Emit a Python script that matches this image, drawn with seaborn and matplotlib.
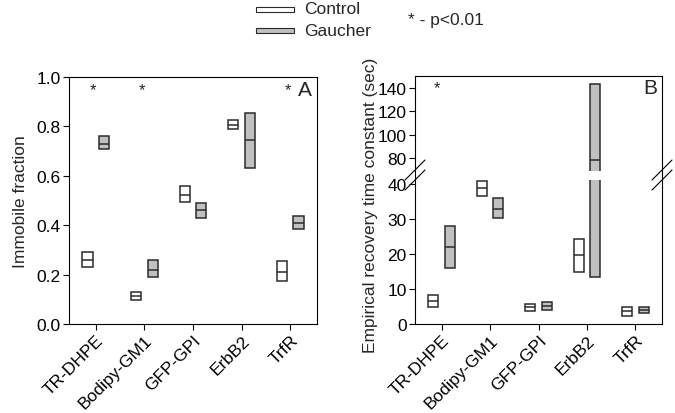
import matplotlib.pyplot as plt
import seaborn as sns
from matplotlib.lines import Line2D
from matplotlib.patches import Rectangle

# %% data
categories = ["TR-DHPE", "Bodipy-GM1", "GFP-GPI", "ErbB2", "TrfR"]

# immobile fraction (panel A): low / median / high
imm_ctrl_low = [0.23, 0.096, 0.495, 0.789, 0.176]
imm_ctrl_med = [0.26, 0.112, 0.523, 0.806, 0.21]
imm_ctrl_high = [0.29, 0.128, 0.56, 0.824, 0.255]
imm_gau_low = [0.71, 0.19, 0.43, 0.633, 0.383]
imm_gau_med = [0.73, 0.22, 0.46, 0.745, 0.41]
imm_gau_high = [0.76, 0.26, 0.488, 0.855, 0.438]

# recovery time constant (panel B), sec
tau_ctrl_low = [4.9, 36.7, 3.6, 14.9, 2.4]
tau_ctrl_med = [6.7, 38.9, 4.8, 19.7, 3.6]
tau_ctrl_high = [8.4, 40.9, 5.75, 24.4, 4.9]
tau_gau_low = [15.9, 30.2, 4.1, 13.5, 3.2]
tau_gau_med = [21.9, 33.0, 5.25, 78.8, 4.1]
tau_gau_high = [28.0, 36.2, 6.2, 143.6, 4.9]

signif_A = ["TR-DHPE", "Bodipy-GM1", "TrfR"]
signif_B = ["TR-DHPE"]

# %% style
sns.set_theme(style="ticks")
plt.rcParams["font.family"] = ["Liberation Sans", "DejaVu Sans"]
plt.rcParams["font.size"] = 12

ctrl_color = "#ffffff"
gau_color = "#c0c0c0"
edge = "#2b2b2b"
offset = 0.17
width = 0.21
W, H = 675, 414

fig = plt.figure(figsize=(6.75, 4.14), dpi=100)


def fig_box(x0, y0, x1, y1):
    # pixel box (top-left origin) to figure fraction rect
    return [x0 / W, 1 - y1 / H, (x1 - x0) / W, (y1 - y0) / H]


def draw_boxes(ax, low, med, high, color, shift):
    xs = [i + 1 + shift for i in range(len(categories))]
    heights = [h - l for l, h in zip(low, high)]
    ax.bar(xs, heights, bottom=low, width=width, color=color,
           edgecolor=edge, linewidth=1.1)
    ax.hlines(med, [x - width / 2 for x in xs], [x + width / 2 for x in xs],
              color=edge, linewidth=1.1)


def style_ax(ax):
    ax.set_xlim(0.45, 5.55)
    ax.tick_params(direction="out", length=4, width=0.8, colors="black",
                   labelsize=12.5, pad=2)
    for s in ax.spines.values():
        s.set_color("black")
        s.set_linewidth(0.8)


# %% panel A
axA = fig.add_axes(fig_box(69, 78, 317, 325))
draw_boxes(axA, imm_ctrl_low, imm_ctrl_med, imm_ctrl_high, ctrl_color, -offset)
draw_boxes(axA, imm_gau_low, imm_gau_med, imm_gau_high, gau_color, offset)
style_ax(axA)
axA.set_ylim(0, 1.0)
axA.set_yticks([0, 0.2, 0.4, 0.6, 0.8, 1.0])
axA.set_yticklabels(["0.0", "0.2", "0.4", "0.6", "0.8", "1.0"])
axA.set_xticks(range(1, 6))
axA.set_xticklabels(categories, rotation=45, ha="right", rotation_mode="anchor")
axA.set_ylabel("Immobile fraction", fontsize=12.5, labelpad=6)
for c in signif_A:
    axA.text(categories.index(c) + 0.95, 0.95, "*", ha="center", va="center", fontsize=12)
axA.text(5.3, 0.95, "A", ha="center", va="center", fontsize=15)

# %% panel B (broken axis)
axBt = fig.add_axes(fig_box(415, 77, 662, 171.7))
axBb = fig.add_axes(fig_box(415, 180.7, 662, 325))
for ax in (axBt, axBb):
    draw_boxes(ax, tau_ctrl_low, tau_ctrl_med, tau_ctrl_high, ctrl_color, -offset)
    draw_boxes(ax, tau_gau_low, tau_gau_med, tau_gau_high, gau_color, offset)
    style_ax(ax)
    ax.set_xticks(range(1, 6))

axBt.set_ylim(69.5, 150)
axBt.set_yticks([80, 100, 120, 140])
axBt.spines["bottom"].set_visible(False)
axBt.tick_params(axis="x", bottom=False, labelbottom=False)
axBb.set_ylim(0, 41.3)
axBb.set_yticks([0, 10, 20, 30, 40])
axBb.spines["top"].set_visible(False)
axBb.set_xticklabels(categories, rotation=45, ha="right", rotation_mode="anchor")

for c in signif_B:
    axBt.text(categories.index(c) + 0.9, 140, "*", ha="center", va="center", fontsize=12)
axBt.text(5.3, 140, "B", ha="center", va="center", fontsize=15)

fig.text(370 / W, 1 - 205 / H, "Empirical recovery time constant (sec)",
         rotation=90, ha="center", va="center", fontsize=12.5)

# spine joins and break marks
for xs in (415, 662):
    fig.add_artist(Line2D([xs / W, xs / W], [1 - 171.7 / H, 1 - 180.7 / H],
                          color="black", linewidth=0.8))
    for dy in (0, 10):
        fig.add_artist(Line2D([(xs - 10) / W, (xs + 10) / W],
                              [1 - (181 + dy) / H, 1 - (161 + dy) / H],
                              color="black", linewidth=0.8))

# %% legend
for y, col, lab in [(10, ctrl_color, "Control"), (31, gau_color, "Gaucher")]:
    fig.add_artist(Rectangle((256 / W, 1 - (y + 2.5) / H), 38 / W, 5 / H,
                             facecolor=col, edgecolor=edge, linewidth=0.8,
                             transform=fig.transFigure))
    fig.text(304 / W, 1 - y / H, lab, ha="left", va="center", fontsize=12.5)
fig.text(408 / W, 1 - 20 / H, "* - p<0.01", ha="left", va="center", fontsize=12.5)

plt.savefig("out.png", dpi=100)
